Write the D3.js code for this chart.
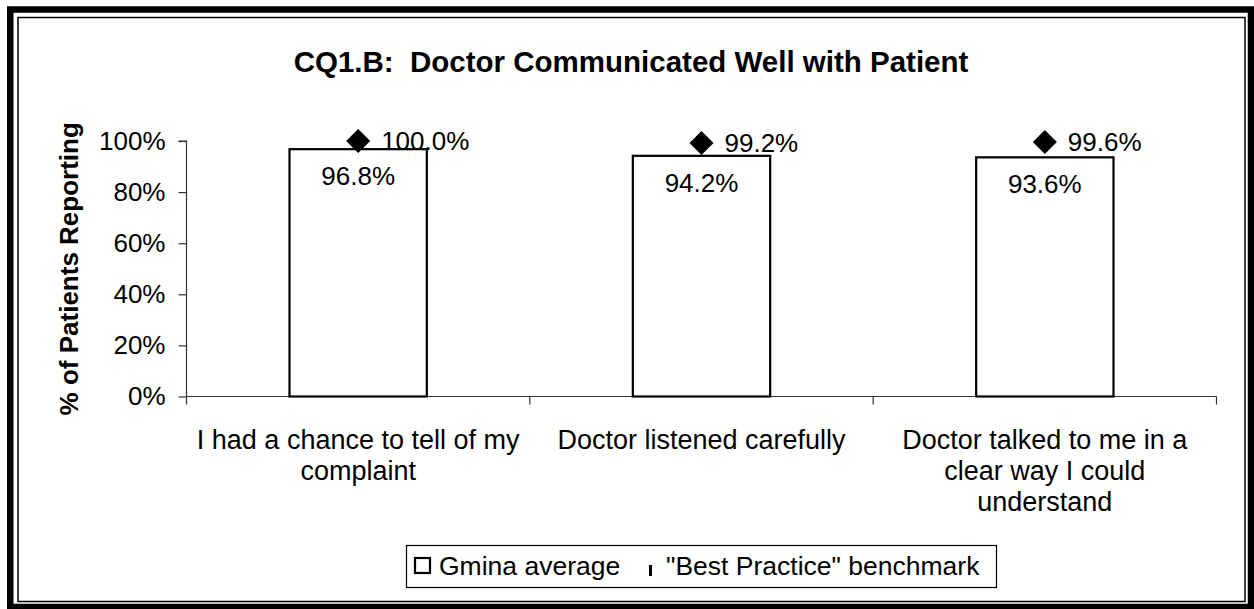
<!DOCTYPE html>
<html>
<head>
<meta charset="utf-8">
<script src="https://cdn.jsdelivr.net/npm/d3@7"></script>
<style>
  html, body { margin: 0; padding: 0; background: #fff; }
  svg { display: block; font-family: "Liberation Sans", Arial, sans-serif; }
  text { white-space: pre; }
</style>
</head>
<body>
<svg id="chart" width="1254" height="609"></svg>
<script>
// chart data
const categories = [
  ["I had a chance to tell of my", "complaint"],
  ["Doctor listened carefully"],
  ["Doctor talked to me in a", "clear way I could", "understand"]
];
const gminaAvg = [96.8, 94.2, 93.6];
const benchmark = [100.0, 99.2, 99.6];
const yTicks = [0, 20, 40, 60, 80, 100];
const seriesNames = ["Gmina average", "\"Best Practice\" benchmark"];
const titleText = "CQ1.B:  Doctor Communicated Well with Patient";
const yTitle = "% of Patients Reporting";

const svg = d3.select("#chart");

// double frame round the chart
svg.append("rect").attr("x", 10.25).attr("y", 9.5).attr("width", 1240.75).attr("height", 597.5)
  .attr("fill", "none").attr("stroke", "#000").attr("stroke-width", 6.5);
svg.append("rect").attr("x", 18).attr("y", 17.5).attr("width", 1227).attr("height", 584)
  .attr("fill", "none").attr("stroke", "#000").attr("stroke-width", 1.5);

const plotL = 186.5, plotR = 1216.5, plotT = 141, plotB = 396.5;

const x = d3.scaleBand().domain(d3.range(categories.length)).range([plotL, plotR])
  .paddingInner(0.6).paddingOuter(0.3);
const xCat = d3.scaleBand().domain(d3.range(categories.length)).range([plotL, plotR]);
const y = d3.scaleLinear().domain([0, 100]).range([plotB, plotT]);

// title
svg.append("text").attr("x", 631).attr("y", 72).attr("text-anchor", "middle")
  .attr("font-size", 29.5).attr("font-weight", "bold").text(titleText);

// y axis
const yAxis = svg.append("g").attr("transform", `translate(${plotL},0)`)
  .call(d3.axisLeft(y).tickValues(yTicks).tickSize(8).tickPadding(13).tickFormat(d => d + "%"));
yAxis.selectAll("path, line").attr("stroke", "#333").attr("stroke-width", 1.2);
yAxis.select(".domain").attr("d", `M-8,${y(100)}H0V${plotB}`);
yAxis.selectAll("text").attr("font-size", 26).attr("fill", "#000")
  .attr("font-family", "Liberation Sans, Arial, sans-serif");

svg.append("text").attr("transform", `translate(78,${(plotT + plotB) / 2}) rotate(-90)`)
  .attr("text-anchor", "middle").attr("font-size", 26).attr("font-weight", "bold").text(yTitle);

// x axis line with ticks at category boundaries
const xAxis = svg.append("g").attr("transform", `translate(0,${plotB})`);
xAxis.append("path").attr("d", `M${plotL},0H${plotR}`).attr("stroke", "#333").attr("stroke-width", 1.2);
xAxis.selectAll("line").data(d3.range(categories.length + 1)).join("line")
  .attr("x1", i => i < categories.length ? xCat(i) : plotR)
  .attr("x2", i => i < categories.length ? xCat(i) : plotR)
  .attr("y1", 0).attr("y2", 8).attr("stroke", "#333").attr("stroke-width", 1.2);

// category labels
svg.append("g").selectAll("text").data(categories).join("text")
  .attr("x", (d, i) => xCat(i) + xCat.bandwidth() / 2)
  .attr("y", 449).attr("text-anchor", "middle").attr("font-size", 27)
  .selectAll("tspan").data(d => d).join("tspan")
  .attr("x", function () { return this.parentNode.getAttribute("x"); })
  .attr("dy", (d, j) => j === 0 ? 0 : 31).text(d => d);

// bars
svg.append("g").selectAll("rect").data(gminaAvg).join("rect")
  .attr("x", (d, i) => x(i)).attr("width", x.bandwidth())
  .attr("y", d => y(d)).attr("height", d => plotB - y(d))
  .attr("fill", "#fff").attr("stroke", "#000").attr("stroke-width", 2.2);

svg.append("g").selectAll("text").data(gminaAvg).join("text")
  .attr("x", (d, i) => x(i) + x.bandwidth() / 2).attr("y", d => y(d) + 36)
  .attr("text-anchor", "middle").attr("font-size", 26).text(d => d.toFixed(1) + "%");

// benchmark diamonds
const diamond = d3.symbol().type(d3.symbolDiamond2).size(370);
svg.append("g").selectAll("path").data(benchmark).join("path")
  .attr("transform", (d, i) => `translate(${xCat(i) + xCat.bandwidth() / 2},${y(d)})`)
  .attr("d", diamond).attr("fill", "#000");

svg.append("g").selectAll("text").data(benchmark).join("text")
  .attr("x", (d, i) => xCat(i) + xCat.bandwidth() / 2 + 23).attr("y", d => y(d))
  .attr("dy", "0.35em").attr("font-size", 26).text(d => d.toFixed(1) + "%");

// legend
const lg = svg.append("g");
lg.append("rect").attr("x", 406.5).attr("y", 545.5).attr("width", 590).attr("height", 42)
  .attr("fill", "#fff").attr("stroke", "#000").attr("stroke-width", 1.2);
lg.append("rect").attr("x", 415).attr("y", 558).attr("width", 15).attr("height", 15)
  .attr("fill", "#fff").attr("stroke", "#000").attr("stroke-width", 2.2);
lg.append("text").attr("x", 439).attr("y", 575).attr("font-size", 26.5).text(seriesNames[0]);
lg.append("rect").attr("x", 649).attr("y", 565).attr("width", 3).attr("height", 11).attr("fill", "#000");
lg.append("text").attr("x", 666).attr("y", 575).attr("font-size", 26.5).text(seriesNames[1]);
</script>
</body>
</html>
